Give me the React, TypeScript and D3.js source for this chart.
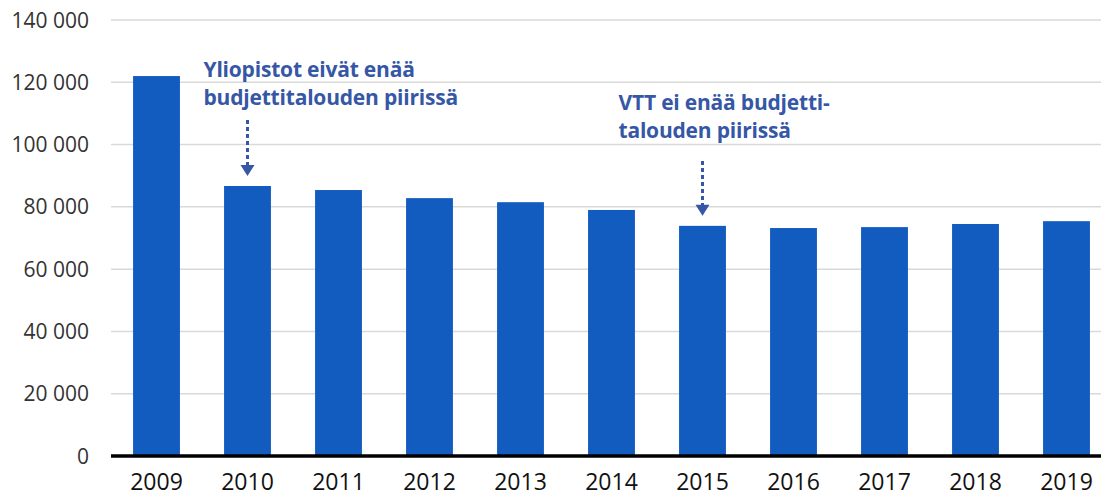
import * as d3 from "d3";
import React, { useEffect, useRef } from "react";

// vuodet ja arvot (luettu kuvasta)
const years = ["2009", "2010", "2011", "2012", "2013", "2014", "2015", "2016", "2017", "2018", "2019"];
const values = [122000, 86700, 85400, 82800, 81500, 79000, 73900, 73200, 73500, 74500, 75400];
const yTicks = [0, 20000, 40000, 60000, 80000, 100000, 120000, 140000];

const notes = [
  { year: "2010", lines: ["Yliopistot eivät enää", "budjettitalouden piirissä"], dx: -44, top: 77, arrowFrom: 120 },
  { year: "2015", lines: ["VTT ei enää budjetti-", "talouden piirissä"], dx: -84, top: 110, arrowFrom: 161 },
];

export default function App() {
  const ref = useRef(null);
  const width = 1101;
  const height = 497;

  useEffect(() => {
    const svg = d3.select(ref.current);
    svg.selectAll("*").remove();

    const x = d3.scaleBand().domain(years).range([111, 1112]).paddingInner(0.485).paddingOuter(0.2425);
    const y = d3.scaleLinear().domain([0, 140000]).range([456, 20]);
    const fmt = (v) => d3.format(",")(v).replace(/,/g, " ");

    // ruudukko
    svg
      .append("g")
      .selectAll("line")
      .data(yTicks.filter((t) => t > 0))
      .join("line")
      .attr("x1", 111)
      .attr("x2", width)
      .attr("y1", (d) => y(d))
      .attr("y2", (d) => y(d))
      .attr("stroke", "#d9d9d9")
      .attr("stroke-width", 1.5);

    svg
      .append("g")
      .style("font-family", "'Open Sans', sans-serif")
      .style("font-size", "21px")
      .attr("fill", "#333")
      .attr("text-anchor", "end")
      .selectAll("text")
      .data(yTicks)
      .join("text")
      .attr("x", 89)
      .attr("y", (d) => y(d))
      .attr("dy", "0.36em")
      .text((d) => fmt(d));

    svg
      .append("g")
      .selectAll("rect")
      .data(values)
      .join("rect")
      .attr("x", (d, i) => x(years[i]))
      .attr("y", (d) => y(d))
      .attr("width", x.bandwidth())
      .attr("height", (d) => y(0) - y(d))
      .attr("fill", "#125bbf");

    svg
      .append("line")
      .attr("x1", 111)
      .attr("x2", width)
      .attr("y1", y(0))
      .attr("y2", y(0))
      .attr("stroke", "#000")
      .attr("stroke-width", 3.5);

    svg
      .append("g")
      .style("font-family", "'Open Sans', sans-serif")
      .style("font-size", "23px")
      .attr("fill", "#111")
      .attr("text-anchor", "middle")
      .selectAll("text")
      .data(years)
      .join("text")
      .attr("x", (d) => x(d) + x.bandwidth() / 2)
      .attr("y", 490)
      .text((d) => d);

    // huomautukset
    const noteColor = "#3557a6";
    notes.forEach((n) => {
      const i = years.indexOf(n.year);
      const cx = x(n.year) + x.bandwidth() / 2;
      const tip = y(values[i]) - 10;
      const g = svg.append("g");
      g.append("text")
        .style("font-family", "'Open Sans', sans-serif")
        .style("font-size", "21px")
        .style("font-weight", 700)
        .style("letter-spacing", "-0.2px")
        .attr("fill", noteColor)
        .selectAll("tspan")
        .data(n.lines)
        .join("tspan")
        .attr("x", cx + n.dx)
        .attr("y", (d, k) => n.top + k * 28)
        .text((d) => d);
      g.append("line")
        .attr("x1", cx)
        .attr("x2", cx)
        .attr("y1", n.arrowFrom)
        .attr("y2", tip - 10)
        .attr("stroke", noteColor)
        .attr("stroke-width", 3)
        .attr("stroke-dasharray", "4 3");
      g.append("path")
        .attr("d", `M${cx - 7},${tip - 11}L${cx + 7},${tip - 11}L${cx},${tip}Z`)
        .attr("fill", noteColor);
    });
  }, []);

  return (
    <div style={{ position: "absolute", left: 0, top: 0 }}>
      <svg ref={ref} width={width} height={height} style={{ display: "block" }} />
    </div>
  );
}
